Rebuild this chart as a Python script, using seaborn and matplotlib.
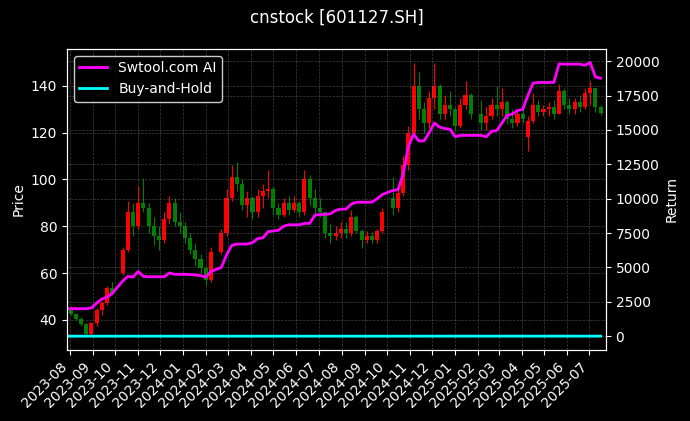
import matplotlib
matplotlib.use("Agg")
import matplotlib.pyplot as plt
import matplotlib.dates as mdates
import pandas as pd
import numpy as np
import seaborn as sns

### data (weekly) ###
holiday_weeks = ["2023-10-04", "2024-02-14", "2024-10-02", "2025-01-29"]

opens = [43, 45, 42.5, 40.5, 38, 34, 38.5, 44, 47, 53.5,
         60, 70, 86, 80, 90, 88, 80, 76, 74, 83,
         90, 82, 80, 75, 70, 66, 62, 57,
         69, 77, 92, 101, 98, 89, 92, 86, 93, 95,
         96, 88, 85, 90, 87, 90, 86, 100, 92, 88,
         86, 77, 76, 77, 79, 77, 84, 78, 74, 76,
         74, 78,
         92, 88, 94, 106, 120, 140, 130,
         124, 135, 140, 128, 132, 130, 123, 132, 136,
         128, 124, 127, 132, 130, 133, 126, 124, 128, 118,
         125, 132, 129, 130, 131, 128, 138, 132, 130, 133,
         131, 137, 139, 131]
highs = [46, 46, 43, 41, 38.5, 39, 45, 48, 54.5, 56,
         71, 91, 90, 97, 100.5, 90, 84, 80, 86, 93,
         92, 86, 82, 77, 73, 68, 63, 71,
         79, 96, 106, 107.5, 100, 95, 93, 96, 98, 104,
         97, 90, 92, 93, 93, 91, 104, 102, 96, 92,
         86, 81, 80, 82, 82, 87, 85, 79, 78, 77.5,
         79, 88,
         101, 97, 110, 123, 150, 146, 133,
         138, 150, 141, 136, 138, 131, 135, 142, 137,
         134, 131, 135, 140, 139, 134, 130, 130, 130, 127,
         137, 134, 132, 133, 134, 141, 139, 135, 135, 136,
         139, 142, 139, 132]
lows = [42.5, 42, 40, 37.5, 33, 33, 37.5, 42, 46.5, 50.5,
        59, 69, 76, 79, 86, 77, 72, 70, 73, 81,
        80, 77, 73, 68, 63, 60, 55, 56,
        68, 76, 91, 95, 87, 84, 83, 84, 88, 92,
        85, 83, 84, 85, 86, 84, 85, 89, 84, 84,
        75, 73, 74, 75, 75, 76, 77, 70.5, 73, 73,
        73, 77,
        85, 86, 93, 104, 119, 126, 120,
        122, 130, 126, 126, 127, 121, 122, 130, 126,
        121, 121, 126, 127, 127, 124, 122, 123, 124, 112,
        124, 127, 127, 127, 126, 128, 130, 128, 128, 129,
        130, 132, 129, 127.5]
closes = [45, 42.5, 40.5, 38, 34, 38.5, 44, 47, 53.5, 51.5,
          70, 86, 80, 90, 88, 80, 76, 74, 83, 90,
          82, 80, 75, 70, 66, 62, 57, 69,
          77, 92, 101, 98, 89, 92, 86, 93, 95, 96,
          88, 85, 90, 87, 90, 86, 100, 92, 88, 86,
          77, 76, 77, 79, 77, 84, 78, 74, 76, 74,
          78, 86,
          88, 94, 106, 120, 140, 130, 124,
          135, 140, 128, 132, 130, 123, 132, 136, 128,
          124, 127, 132, 130, 133, 126, 124, 128, 126, 125,
          132, 129, 130, 131, 128, 138, 132, 130, 133, 131,
          137, 139, 131, 128.5]
ai_return = [2000, 2000, 2000, 2000, 2000, 2050, 2400, 2700, 2850, 3100,
             4000, 4350, 4300, 4700, 4350, 4320, 4320, 4320, 4320, 4600,
             4500, 4500, 4500, 4480, 4450, 4400, 4300, 4700,
             5000, 5900, 6600, 6700, 6700, 6700, 6800, 7100, 7150, 7600,
             7650, 7700, 8000, 8100, 8100, 8100, 8200, 8200, 8800, 8850,
             8850, 8900, 9150, 9240, 9240, 9600, 9740, 9740, 9740, 9750,
             10000, 10300,
             10600, 10650, 11800, 13800, 14700, 14200, 14200,
             14800, 15500, 15200, 15100, 15050, 14500, 14600, 14600, 14600,
             14600, 14500, 14900, 14950, 15500, 16050, 16150, 16400, 16500, 17500,
             18400, 18450, 18450, 18450, 18450, 19800, 19780, 19780, 19780, 19780,
             19700, 19900, 18850, 18760]

weeks = pd.date_range("2023-07-26", "2025-07-16", freq="W-WED")
weeks = weeks[~weeks.isin(pd.to_datetime(holiday_weeks))]

df = pd.DataFrame({"date": weeks, "open": opens, "high": highs,
                   "low": lows, "close": closes, "ai": ai_return})
df["bh"] = df["close"] / df["close"].iloc[0] - 1

### plot ###
plt.style.use("dark_background")
fig, ax = plt.subplots(figsize=(6.9, 4.21), dpi=100)
fig.subplots_adjust(left=0.097, right=0.878, top=0.884, bottom=0.169)

up = df["close"] >= df["open"]
cols = np.where(up, "red", "green")
ax.vlines(df["date"], df["low"], df["high"], colors=cols, linewidth=0.8)
ax.bar(df["date"], df["close"] - df["open"], bottom=df["open"], width=5.5,
       color=cols, linewidth=0)

ax.set_ylabel("Price")
ax.grid(True, linestyle="--", linewidth=0.5, color="gray", alpha=0.5)

ax2 = ax.twinx()
sns.lineplot(data=df, x="date", y="ai", ax=ax2, color="magenta",
             linewidth=2, label="Swtool.com AI")
sns.lineplot(data=df, x="date", y="bh", ax=ax2, color="cyan",
             linewidth=2, label="Buy-and-Hold")
ax2.set_ylabel("Return")
ax2.grid(True, linestyle="--", linewidth=0.5, color="gray", alpha=0.5)
ax2.legend(loc="upper left", facecolor="black", edgecolor="white")

ax.xaxis.set_major_locator(mdates.MonthLocator())
ax.xaxis.set_major_formatter(mdates.DateFormatter("%Y-%m"))
ax.set_xlim(pd.Timestamp("2023-07-28"), pd.Timestamp("2025-07-23"))
ax2.set_xlabel("")
for lbl in ax.get_xticklabels():
    lbl.set_rotation(45)
    lbl.set_ha("right")

ax.set_title("cnstock [601127.SH]", pad=19, fontsize=12)

fig.savefig("out.png", dpi=100, facecolor="black")
